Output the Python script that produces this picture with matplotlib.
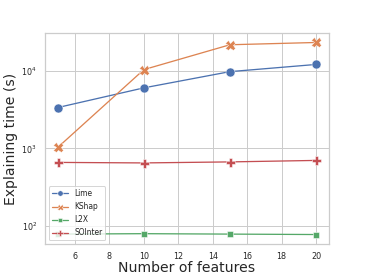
import matplotlib
matplotlib.use("Agg")
import matplotlib.pyplot as plt
import seaborn as sns

features = [5, 10, 15, 20]
lime = [3350, 6000, 9700, 12000]
kshap = [1030, 10300, 21500, 23000]
l2x = [79, 80, 79, 78]
sointer = [660, 650, 670, 700]

sns.set_theme(style="whitegrid")
plt.rcParams['font.family'] = ['DejaVu Sans']

fig = plt.figure(figsize=(365/72, 274/72), dpi=72)
ax = fig.add_axes([0.123, 0.109, 0.778, 0.771])
pal = sns.color_palette("deep")
series = [("Lime", lime, "o", 9), ("KShap", kshap, "X", 10), ("L2X", l2x, "s", 6.5), ("SOInter", sointer, "P", 9)]
for i, (name, vals, mk, ms) in enumerate(series):
    ax.plot(features, vals, marker=mk, markersize=ms, color=pal[i], lw=1.3,
            markeredgecolor="white", markeredgewidth=0.5, label=name)
ax.set_yscale("log")
ax.set_xticks([6, 8, 10, 12, 14, 16, 18, 20])
ax.tick_params(labelsize=8, pad=2)
ax.set_xlabel("Number of features", fontsize=14, labelpad=0)
ax.set_ylabel("Explaining time (s)", fontsize=14, labelpad=3)
ax.minorticks_off()
ax.legend(loc="lower left", fontsize=7.5, borderpad=0.4, handlelength=2.2,
          labelspacing=0.55, markerscale=0.6)
fig.savefig("out.png", dpi=72)
